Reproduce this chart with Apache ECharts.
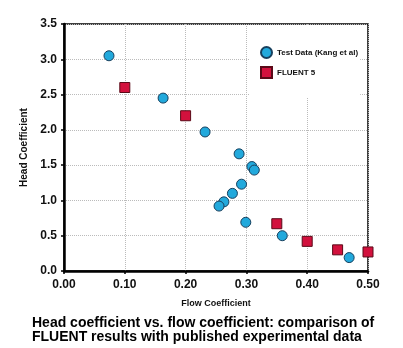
<!DOCTYPE html>
<html><head><meta charset="utf-8">
<script src="https://cdn.jsdelivr.net/npm/echarts@6/dist/echarts.min.js"></script>
<style>html,body{margin:0;padding:0;background:#fff}#c{width:403px;height:348px}</style>
</head><body><div id="c"></div>
<script>
const testX = [0.074, 0.163, 0.232, 0.288, 0.309, 0.313, 0.292, 0.277, 0.263, 0.255, 0.299, 0.359, 0.469];
const testY = [3.05, 2.45, 1.97, 1.66, 1.48, 1.43, 1.23, 1.10, 0.98, 0.92, 0.69, 0.50, 0.19];
const fluentX = [0.10, 0.20, 0.35, 0.40, 0.45, 0.50];
const fluentY = [2.60, 2.20, 0.67, 0.42, 0.30, 0.27];
const xTicks = ['0.00','0.10','0.20','0.30','0.40','0.50'];
const yTicks = ['0.0','0.5','1.0','1.5','2.0','2.5','3.0','3.5'];
const caption = ['Head coefficient vs. flow coefficient: comparison of', 'FLUENT results with published experimental data'];

const chart = echarts.init(document.getElementById('c'), null, {renderer:'canvas'});
const lblFont = {fontFamily:'Liberation Sans, Arial, sans-serif', fontWeight:'bold', fontSize:12, color:'#111'};
chart.setOption({
  animation:false,
  backgroundColor:'#fff',
  grid:{left:64, right:35, top:24, bottom:77, show:true, borderColor:'#000', borderWidth:1.5},
  xAxis:{type:'value', min:0, max:0.5, interval:0.1,
    name:'Flow Coefficient', nameLocation:'middle', nameGap:28,
    nameTextStyle:{fontFamily:'Liberation Sans, Arial', fontWeight:'bold', fontSize:9, color:'#111'},
    axisLine:{show:true, onZero:false, lineStyle:{color:'#000', width:2.5}},
    axisTick:{show:true, length:3, lineStyle:{color:'#000', width:1.5}},
    axisLabel:Object.assign({margin:8, formatter:(v)=>xTicks[Math.round(v*10)]}, lblFont),
    splitLine:{show:true, lineStyle:{color:'#bbb', type:'dotted', width:1}}},
  yAxis:{type:'value', min:0, max:3.5, interval:0.5,
    name:'Head Coefficient', nameLocation:'middle', nameGap:32, nameRotate:90,
    nameTextStyle:{fontFamily:'Liberation Sans, Arial', fontWeight:'bold', fontSize:10, color:'#111'},
    axisLine:{show:true, onZero:false, lineStyle:{color:'#000', width:2.5}},
    axisTick:{show:true, length:3, lineStyle:{color:'#000', width:1.5}},
    axisLabel:Object.assign({margin:7, formatter:(v)=>yTicks[Math.round(v*2)]}, lblFont),
    splitLine:{show:true, lineStyle:{color:'#bbb', type:'dotted', width:1}}},
  legend:{show:true, orient:'vertical', left:249, top:25, padding:[21,2,18,11],
    backgroundColor:'#fff', itemWidth:11, itemHeight:11, itemGap:7,
    textStyle:{fontFamily:'Liberation Sans, Arial', fontWeight:'bold', fontSize:8, color:'#111'},
    data:[{name:'Test Data (Kang et al)', icon:'circle'},{name:'FLUENT 5', icon:'rect'}]},
  graphic:[{type:'text', left:32, top:316, style:{text:caption.join('\n'), fontFamily:'Liberation Sans, Arial', fontWeight:'bold', fontSize:14, lineHeight:14, fill:'#000'}}],
  series:[
    {name:'Test Data (Kang et al)', type:'scatter', symbol:'circle', symbolSize:10,
     itemStyle:{color:'#22a9dc', borderColor:'#17405e', borderWidth:1, opacity:1},
     data:testX.map((x,i)=>[x,testY[i]])},
    {name:'FLUENT 5', type:'scatter', symbol:'rect', symbolSize:10,
     itemStyle:{color:'#d2113d', borderColor:'#5a0a18', borderWidth:1, opacity:1},
     data:fluentX.map((x,i)=>[x,fluentY[i]])}
  ]
});
</script></body></html>
